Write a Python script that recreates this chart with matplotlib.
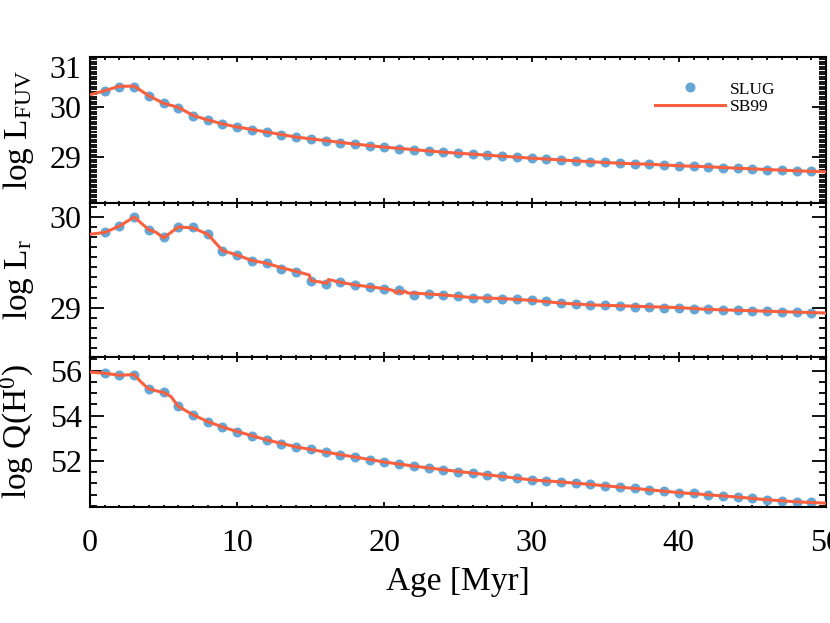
import numpy as np
import matplotlib
matplotlib.use('Agg')
import matplotlib.pyplot as plt
from matplotlib.ticker import MultipleLocator, AutoMinorLocator

plt.rcParams['font.family'] = ['Liberation Serif', 'DejaVu Serif']
plt.rcParams['mathtext.fontset'] = 'custom'
plt.rcParams['mathtext.rm'] = 'Liberation Serif'
plt.rcParams['mathtext.it'] = 'Liberation Serif:italic'

# SLUG points, one per Myr
slug_age = np.arange(1, 50)
slug_fuv = [30.32, 30.40, 30.40, 30.22, 30.07, 29.97, 29.82, 29.74, 29.66, 29.60,
            29.54, 29.50, 29.45, 29.40, 29.36, 29.33, 29.29, 29.26, 29.23, 29.20,
            29.17, 29.15, 29.12, 29.10, 29.08, 29.06, 29.04, 29.02, 29.00, 28.98,
            28.96, 28.945, 28.93, 28.91, 28.90, 28.88, 28.87, 28.86, 28.85, 28.83,
            28.82, 28.81, 28.79, 28.78, 28.77, 28.755, 28.745, 28.73, 28.72]
slug_r = [29.84, 29.90, 30.00, 29.86, 29.78, 29.89, 29.89, 29.81, 29.63, 29.58,
          29.52, 29.49, 29.43, 29.39, 29.29, 29.26, 29.28, 29.25, 29.23, 29.21,
          29.19, 29.14, 29.15, 29.14, 29.13, 29.11, 29.11, 29.10, 29.09, 29.08,
          29.07, 29.05, 29.04, 29.03, 29.03, 29.02, 29.01, 29.01, 29.00, 29.00,
          28.99, 28.98, 28.97, 28.97, 28.96, 28.96, 28.95, 28.95, 28.94]
slug_q = [55.88, 55.78, 55.81, 55.19, 55.03, 54.41, 54.04, 53.74, 53.50, 53.30,
          53.11, 52.93, 52.76, 52.62, 52.51, 52.39, 52.26, 52.17, 52.05, 51.95,
          51.86, 51.77, 51.68, 51.61, 51.53, 51.46, 51.39, 51.31, 51.24, 51.16,
          51.11, 51.07, 51.02, 50.96, 50.90, 50.84, 50.78, 50.72, 50.65, 50.60,
          50.56, 50.50, 50.46, 50.40, 50.34, 50.28, 50.23, 50.19, 50.16]

# SB99 curves
sb_fuv_age = [0, 1, 2, 3, 4, 5, 6, 7, 8, 9, 10, 12, 14, 16, 18, 20, 22, 24, 26, 28,
              30, 32, 34, 36, 38, 40, 42, 44, 46, 48, 50]
sb_fuv = [30.24, 30.32, 30.41, 30.41, 30.22, 30.07, 29.99, 29.83, 29.74, 29.66, 29.60,
          29.50, 29.40, 29.33, 29.26, 29.20, 29.15, 29.10, 29.06, 29.02, 28.98, 28.945,
          28.91, 28.88, 28.86, 28.83, 28.81, 28.78, 28.755, 28.73, 28.71]
sb_r_age = [0, 1, 2, 3, 4, 4.5, 5, 6, 7, 8, 9, 10, 11, 12, 13, 14, 14.9, 15.0, 16.1,
            16.2, 17, 18, 19, 20, 20.6, 20.8, 21.0, 21.2, 21.4, 21.6, 22, 24, 26, 28,
            30, 32, 34, 36, 38, 40, 42, 44, 46, 48, 50]
sb_r = [29.81, 29.83, 29.90, 30.00, 29.86, 29.83, 29.77, 29.89, 29.88, 29.81, 29.63,
        29.58, 29.52, 29.49, 29.44, 29.40, 29.36, 29.30, 29.27, 29.31, 29.28, 29.25,
        29.23, 29.21, 29.19, 29.16, 29.19, 29.16, 29.18, 29.16, 29.16, 29.14, 29.11,
        29.10, 29.08, 29.05, 29.03, 29.02, 29.01, 29.00, 28.98, 28.97, 28.96, 28.95,
        28.94]
sb_q_age = [0, 1, 2, 3, 3.3, 3.7, 4, 4.5, 5, 5.5, 6, 7, 8, 9, 10, 12, 14, 16, 18, 20,
            22, 24, 26, 28, 30, 32, 34, 36, 38, 40, 42, 44, 46, 48, 50]
sb_q = [55.93, 55.88, 55.79, 55.82, 55.60, 55.35, 55.19, 55.10, 55.03, 54.85, 54.41,
        54.04, 53.74, 53.50, 53.30, 52.93, 52.62, 52.39, 52.17, 51.95, 51.77, 51.61,
        51.46, 51.31, 51.16, 51.07, 50.96, 50.84, 50.72, 50.60, 50.50, 50.40, 50.28,
        50.19, 50.13]

dot_col = '#64a6d4'
line_col = '#f9603f'

fig = plt.figure(figsize=(8.3, 6.23), dpi=100)
left, width = 90 / 830, 736 / 830
tops = [56.5, 203, 356.5, 507]
axes = []
for i in range(3):
    b = 1 - tops[i + 1] / 623
    h = (tops[i + 1] - tops[i]) / 623
    axes.append(fig.add_axes([left, b, width, h]))

panels = [
    (slug_fuv, sb_fuv_age, sb_fuv, r'log L$_{\rm FUV}$', (28.09, 31.0), [29, 30, 31], 0.05),
    (slug_r, sb_r_age, sb_r, r'log L$_{\rm r}$', (28.46, 30.155), [29, 30], None),
    (slug_q, sb_q_age, sb_q, r'log Q(H$^{\rm 0}$)', (49.96, 56.62), [52, 54, 56], 0.5),
]

for ax, (sv, la, lv, lab, yl, yt, mn) in zip(axes, panels):
    ax.plot(slug_age, sv, 'o', color=dot_col, ms=7.2, mec='none', label='SLUG', zorder=2)
    ax.plot(la, lv, '-', color=line_col, lw=2.2, label='SB99', zorder=3)
    ax.set_xlim(0, 50)
    ax.set_ylim(*yl)
    ax.set_yticks(yt)
    if mn is None:
        ax.yaxis.set_minor_locator(AutoMinorLocator(9))
    else:
        ax.yaxis.set_minor_locator(MultipleLocator(mn))
    ax.xaxis.set_major_locator(MultipleLocator(10))
    ax.xaxis.set_minor_locator(MultipleLocator(1))
    ax.tick_params(axis='both', which='both', direction='in', top=True, right=True,
                   labelsize=23, width=1.3)
    ax.tick_params(axis='y', which='major', length=10, pad=6)
    ax.tick_params(axis='y', which='minor', length=5)
    ax.tick_params(axis='x', which='major', length=3.5, pad=16)
    ax.tick_params(axis='x', which='minor', length=1.8)
    for s in ax.spines.values():
        s.set_linewidth(1.5)
    ax.set_ylabel(lab, fontsize=24)
    ax.yaxis.set_label_coords(-0.073, 0.5)
    if ax is not axes[-1]:
        ax.tick_params(axis='x', labelbottom=False)

# top label of first panel sits just under the spine
for t in axes[0].get_yticklabels():
    if t.get_text() == '31':
        t.set_va('top')

axes[-1].set_xlabel('Age [Myr]', fontsize=24, labelpad=6)

axes[0].legend(loc='upper left', bbox_to_anchor=(0.768, 0.83), frameon=False,
               fontsize=12.5, numpoints=1, handlelength=4.0, handletextpad=0.3,
               labelspacing=0.05, borderpad=0, borderaxespad=0)

fig.savefig('out.png', dpi=100)
